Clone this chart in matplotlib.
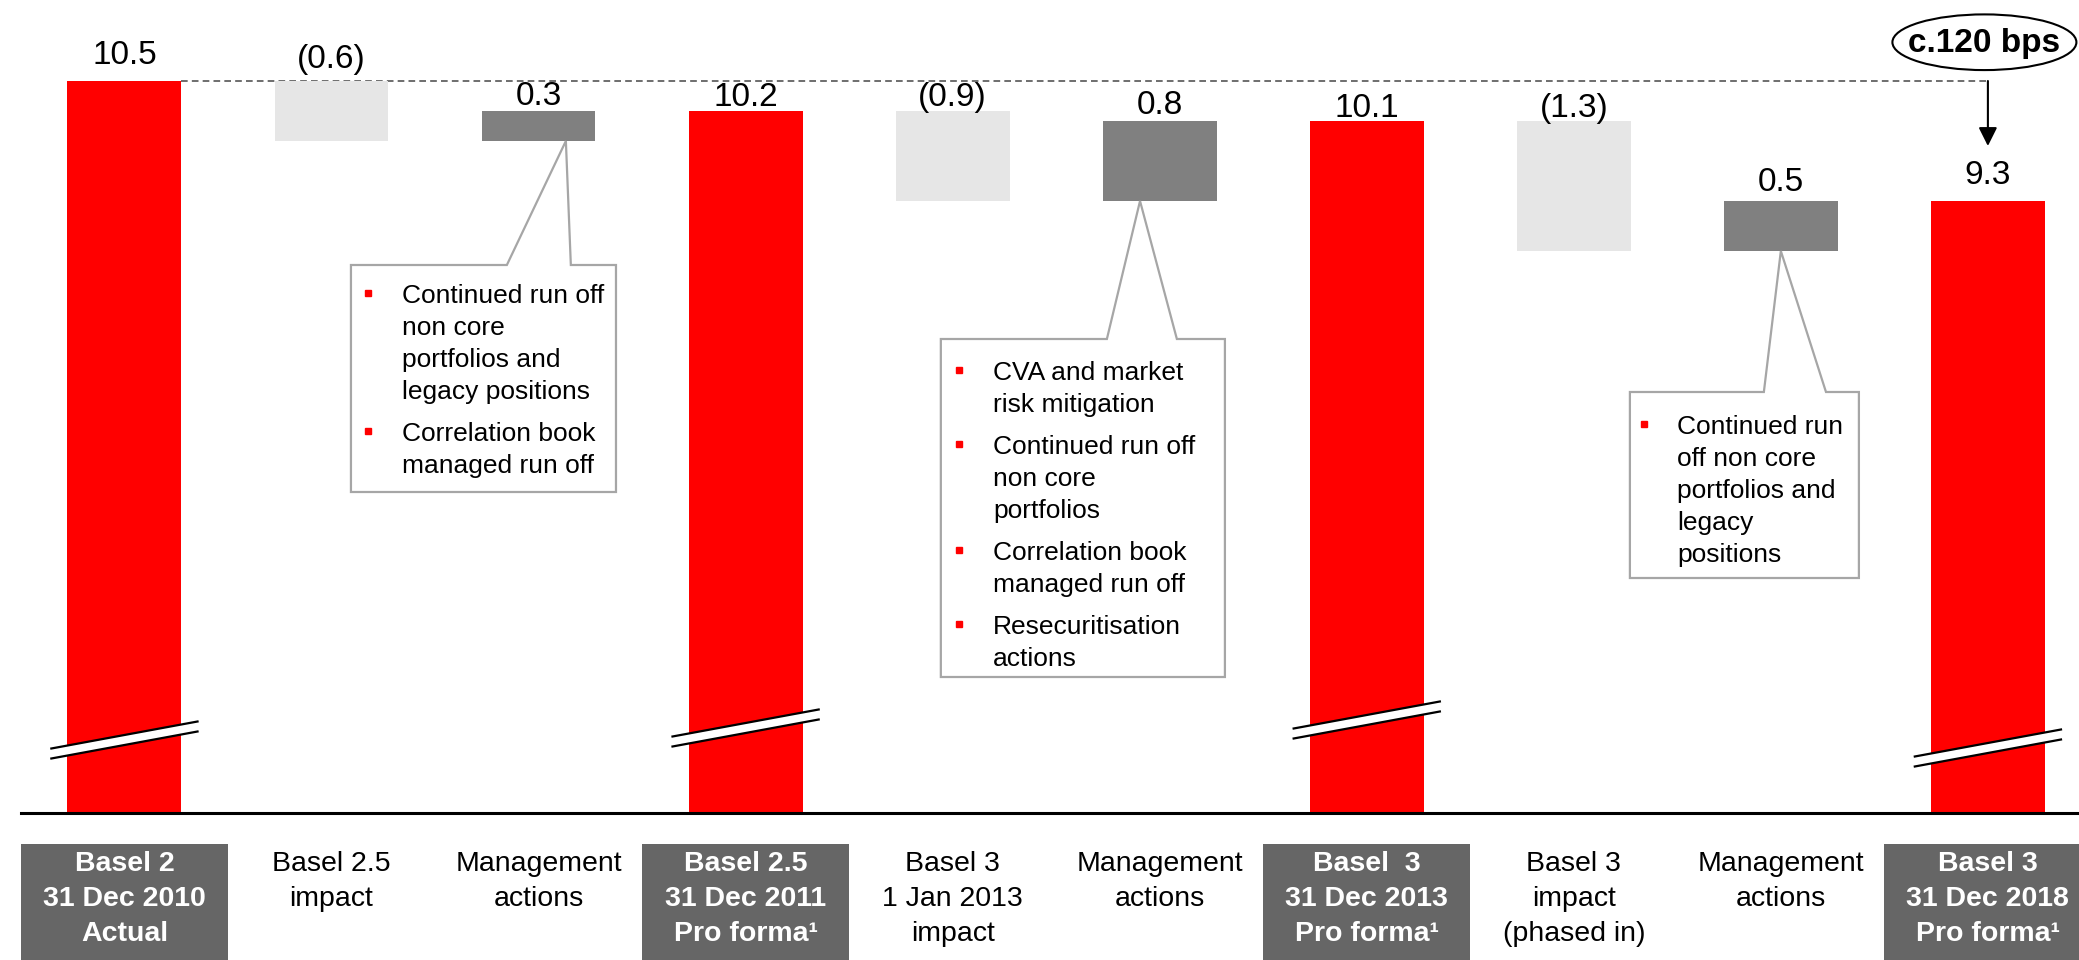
import matplotlib.pyplot as plt
import matplotlib.transforms as mtransforms
from matplotlib.patches import Rectangle, Polygon, Ellipse

plt.rcParams['font.family'] = ['Liberation Sans', 'DejaVu Sans']

# data
categories = [
    "Basel 2\n31 Dec 2010\nActual",
    "Basel 2.5\nimpact",
    "Management\nactions",
    "Basel 2.5\n31 Dec 2011\nPro forma¹",
    "Basel 3\n1 Jan 2013\nimpact",
    "Management\nactions",
    "Basel  3\n31 Dec 2013\nPro forma¹",
    "Basel 3\nimpact\n(phased in)",
    "Management\nactions",
    "Basel 3\n31 Dec 2018\nPro forma¹",
]
values = [10.5, -0.6, 0.3, 10.2, -0.9, 0.8, 10.1, -1.3, 0.5, 9.3]
is_total = [True, False, False, True, False, False, True, False, False, True]

callout_bars = [2, 5, 8]
callout_texts = [
    ["Continued run off\nnon core\nportfolios and\nlegacy positions",
     "Correlation book\nmanaged run off"],
    ["CVA and market\nrisk mitigation",
     "Continued run off\nnon core\nportfolios",
     "Correlation book\nmanaged run off",
     "Resecuritisation\nactions"],
    ["Continued run\noff non core\nportfolios and\nlegacy\npositions"],
]
summary = "c.120 bps"

# styling / layout
RED = "#FF0000"
LIGHT = "#E6E6E6"
DARK = "#808080"
BOXGREY = "#666666"
EDGE = "#A6A6A6"
bar_w = 0.55
label_pad_px = [17, 13, 6, 5, 5, 7, 4, 4, 10, 17]
break_levels = [3.91, 4.03, 4.11, 3.83]
# callout boxes: left, right, top, bottom (data units), pointer base, tip dx
callout_boxes = [(1.094, 2.374, 8.66, 6.39), (3.943, 5.315, 7.92, 4.54), (7.271, 8.377, 7.39, 5.53)]
callout_base = [(1.847, 2.156), (4.745, 5.083), (7.918, 8.218)]
callout_tip_dx = [0.132, -0.095, 0.0]
callout_text_dx = [51, 52, 47]
callout_bullet_dx = [17, 18, 14]
callout_first_dy = [28, 31, 32]
line_step = 32
para_gap = 10

# waterfall geometry
bottoms, heights, colors = [], [], []
level = 0
for v, t in zip(values, is_total):
    if t:
        bottoms.append(0); heights.append(v); colors.append(RED); level = v
    elif v < 0:
        bottoms.append(level + v); heights.append(-v); colors.append(LIGHT); level += v
    else:
        bottoms.append(level); heights.append(v); colors.append(DARK); level += v
tops = [b + h for b, h in zip(bottoms, heights)]
x = list(range(len(values)))

fig = plt.figure(figsize=(20.79, 9.6), dpi=100)
ax = fig.add_axes([0, 147 / 960, 1, 813 / 960])
ymin, ymax = 3.18, 11.31
ax.set_ylim(ymin, ymax)
ax.set_xlim(-0.601, 9.44)
ax.axis('off')

ax.bar(x, heights, bottom=bottoms, width=bar_w, color=colors, zorder=2)

# value labels
for i, (v, t) in enumerate(zip(values, is_total)):
    txt = f"{v:.1f}" if v >= 0 else f"({-v:.1f})"
    ax.annotate(txt, (i, tops[i]), xytext=(0, label_pad_px[i] * 0.72),
                textcoords='offset points', ha='center', va='baseline', fontsize=24)

# axis break marks on total bars
totals_idx = [i for i, t in enumerate(is_total) if t]
hx, hy, gap = 0.353, 0.135, 0.05
for i, lv in zip(totals_idx, break_levels):
    poly = Polygon([(i - hx, lv - hy + gap), (i + hx, lv + hy + gap),
                    (i + hx, lv + hy - gap), (i - hx, lv - hy - gap)],
                   closed=True, facecolor='white', edgecolor='none', zorder=3)
    ax.add_patch(poly)
    for s in (gap, -gap):
        ax.plot([i - hx, i + hx], [lv - hy + s, lv + hy + s], color='black', lw=1.6, zorder=4)

# baseline
ax.plot([-0.5, 9.44], [ymin, ymin], color='black', lw=2.2, clip_on=False, zorder=5)

# dashed reference + arrow
ax.plot([bar_w / 2, x[-1]], [values[0], values[0]], color='#555555', lw=1.2,
        ls=(0, (4, 2.5)), zorder=1)
ax.annotate('', xy=(x[-1], values[0] - 0.65), xytext=(x[-1], values[0]),
            arrowprops=dict(arrowstyle='-|>', color='black', lw=1.5,
                            mutation_scale=28, shrinkA=0, shrinkB=0))
fig.add_artist(Ellipse((0.9545, 0.956), 0.0885, 0.058, transform=fig.transFigure,
                       fill=False, edgecolor='black', lw=1.5))
fig.text(0.9545, 0.955, summary, ha='center', va='center', fontsize=24, fontweight='bold')

# callouts
for k, bi in enumerate(callout_bars):
    L, R, T, B = callout_boxes[k]
    bl, br = callout_base[k]
    tip = (bi + callout_tip_dx[k], bottoms[bi])
    poly = Polygon([(L, T), (bl, T), tip, (br, T), (R, T), (R, B), (L, B)], closed=True,
                   facecolor='white', edgecolor=EDGE, lw=1.6, joinstyle='miter', zorder=6)
    ax.add_patch(poly)
    dy = callout_first_dy[k]
    for para in callout_texts[k]:
        btr = mtransforms.offset_copy(ax.transData, fig=fig, x=callout_bullet_dx[k] * 0.72,
                                      y=-dy * 0.72, units='points')
        ax.plot([L], [T], marker='s', ms=5, color=RED, transform=btr, zorder=7)
        for line in para.split("\n"):
            ax.annotate(line, (L, T), xytext=(callout_text_dx[k] * 0.72, -dy * 0.72),
                        textcoords='offset points', ha='left', va='center_baseline',
                        fontsize=19, zorder=7)
            dy += line_step
        dy += para_gap

# category labels
blend = mtransforms.blended_transform_factory(ax.transData, fig.transFigure)
for i, lab in enumerate(categories):
    if is_total[i]:
        ax.add_patch(Rectangle((i - 0.5, 0), 1.0, 116 / 960, transform=blend,
                               facecolor=BOXGREY, edgecolor='none', clip_on=False))
        ax.text(i, 109 / 960, lab, transform=blend, ha='center', va='top',
                color='white', fontweight='bold', fontsize=20.5, linespacing=1.46)
    else:
        ax.text(i, 109 / 960, lab, transform=blend, ha='center', va='top',
                color='black', fontsize=20.5, linespacing=1.46)

fig.savefig("out.png", dpi=100)
